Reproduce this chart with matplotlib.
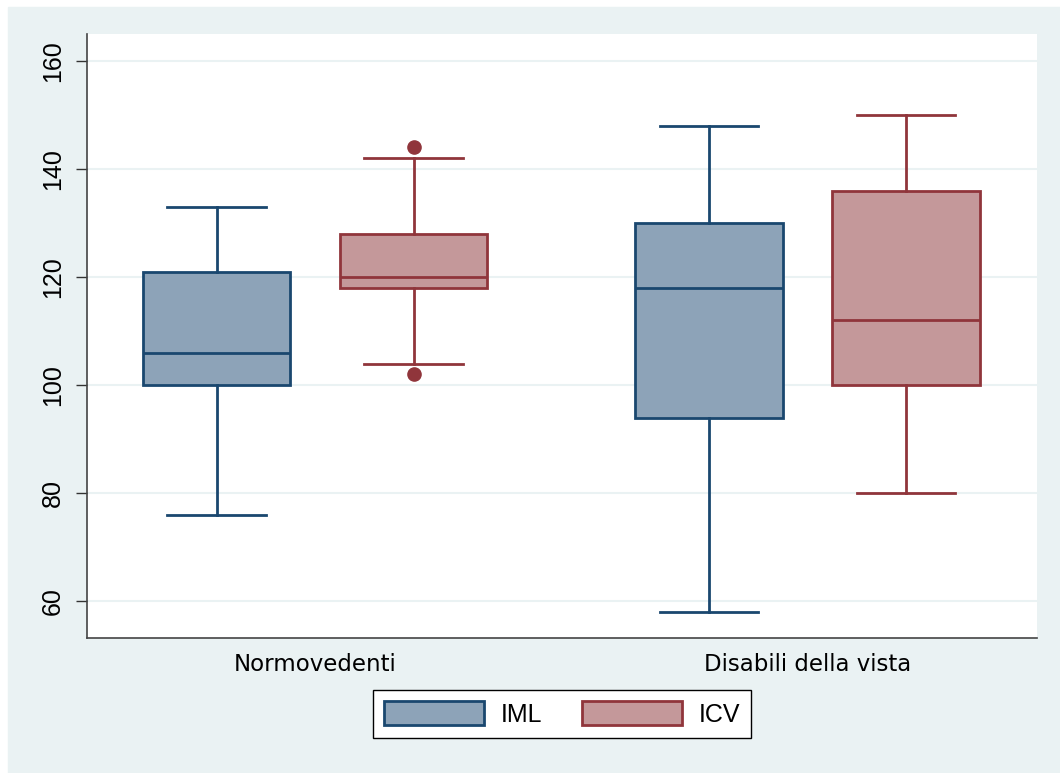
import matplotlib.pyplot as plt
from matplotlib.patches import Rectangle, Patch

# dati
gruppi = ['Normovedenti', 'Disabili della vista']
serie = ['IML', 'ICV']
# per ogni gruppo: IML, ICV -> (whislo, q1, med, q3, whishi)
whislo = [[76, 104], [58, 80]]
q1 = [[100, 118], [94, 100]]
med = [[106, 120], [118, 112]]
q3 = [[121, 128], [130, 136]]
whishi = [[133, 142], [148, 150]]
outliers = [[[], [144, 102]], [[], []]]

edge_col = ['#1a476f', '#90353b']
fill_col = ['#8da3b8', '#c4989a']
bg = '#eaf2f3'

fig = plt.figure(figsize=(10.6, 7.73), dpi=100, facecolor='white')
fig.patches.append(Rectangle((8 / 1060, 0), 1, (773 - 7) / 773,
                             transform=fig.transFigure, color=bg, zorder=-10))
ax = fig.add_axes([87 / 1060, 1 - 637.7 / 773, (1037 - 87) / 1060, (637.7 - 34) / 773])
ax.set_facecolor('white')

offs = [-0.2, 0.2]
for g in range(len(gruppi)):
    for s in range(len(serie)):
        st = [dict(whislo=whislo[g][s], q1=q1[g][s], med=med[g][s],
                   q3=q3[g][s], whishi=whishi[g][s], fliers=outliers[g][s])]
        c = edge_col[s]
        ax.bxp(st, positions=[g + 1 + offs[s]], widths=0.30, patch_artist=True,
               boxprops=dict(facecolor=fill_col[s], edgecolor=c, linewidth=2),
               medianprops=dict(color=c, linewidth=2),
               whiskerprops=dict(color=c, linewidth=2),
               capprops=dict(color=c, linewidth=2),
               capwidths=0.2,
               flierprops=dict(marker='o', markerfacecolor=c, markeredgecolor=c,
                               markersize=9.5),
               manage_ticks=False)

ax.set_xlim(0.537, 2.466)
ax.set_ylim(53.3, 165)
ax.set_yticks([60, 80, 100, 120, 140, 160])
ax.set_xticks([1, 2])
ax.set_xticklabels(gruppi, fontsize=16.5, family='DejaVu Sans')
ax.tick_params(axis='x', length=0, pad=11)
ax.tick_params(axis='y', length=8, width=1, color='#333333', pad=8)
for lab in ax.get_yticklabels():
    lab.set_rotation(90)
    lab.set_va('center')
    lab.set_fontsize(18)
    lab.set_family('Liberation Sans')
ax.grid(axis='y', color=bg, linewidth=1.5)
ax.set_axisbelow(True)
for sp in ['top', 'right']:
    ax.spines[sp].set_visible(False)
for sp in ['left', 'bottom']:
    ax.spines[sp].set_color('#444444')
    ax.spines[sp].set_linewidth(1.2)

handles = [Patch(facecolor=fill_col[i], edgecolor=edge_col[i], linewidth=2, label=serie[i])
           for i in range(2)]
leg = fig.legend(handles=handles, loc='center', bbox_to_anchor=(562 / 1060, 1 - 714 / 773),
                 ncol=2, fancybox=False, edgecolor='black', framealpha=1,
                 handlelength=4.0, handleheight=1.1, handletextpad=0.68,
                 columnspacing=1.56, borderpad=0.45, borderaxespad=0,
                 prop={'family': 'Liberation Sans', 'size': 18})
leg.get_frame().set_linewidth(1.0)

fig.savefig('out.png', dpi=100, facecolor='white')
